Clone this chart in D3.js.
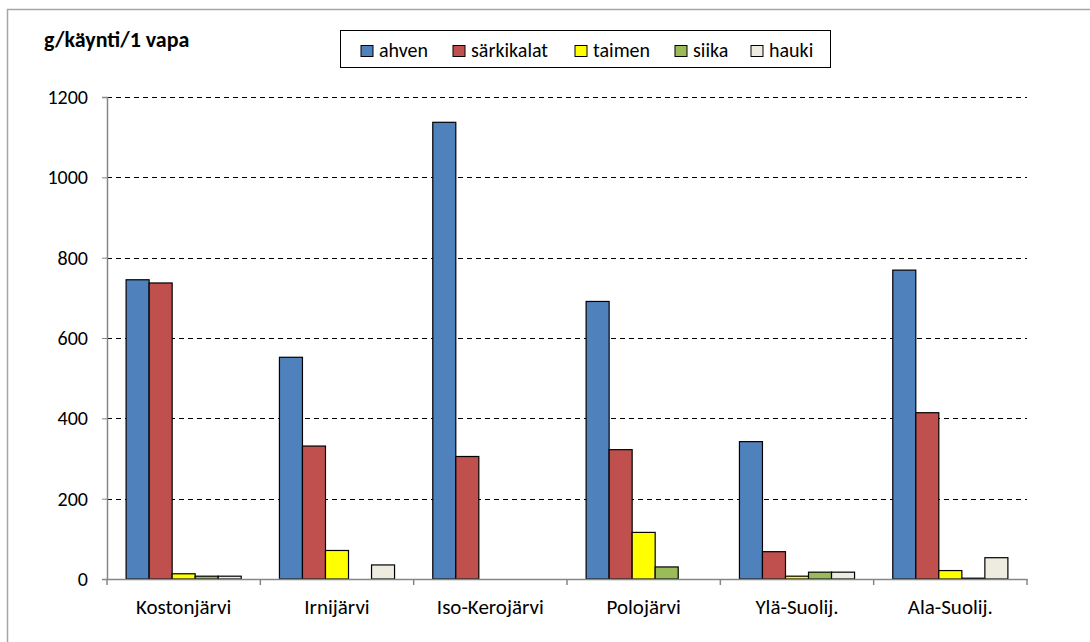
<!DOCTYPE html>
<meta charset="utf-8">
<html>
<head>
<title>g/käynti/1 vapa</title>
<script src="https://d3js.org/d3.v7.min.js"></script>
<style>
  body { margin: 0; background: #fff; }
  svg text { font-family: Carlito, "Open Sans", sans-serif; fill: #000; }
  .axis path, .axis line { stroke: #868686; }
</style>
</head>
<body>
<script>
// data
var lakes = ["Kostonjärvi", "Irnijärvi", "Iso-Kerojärvi", "Polojärvi", "Ylä-Suolij.", "Ala-Suolij."];
var species = ["ahven", "särkikalat", "taimen", "siika", "hauki"];
var ahven      = [745, 552, 1137, 691, 342, 769];
var sarkikalat = [737, 331, 305, 322, 68, 414];
var taimen     = [13, 71, 0, 116, 7, 21];
var siika      = [7, 0, 0, 30, 17, 2];
var hauki      = [7, 35, 0, 0, 17, 53];
var yTicks = [0, 200, 400, 600, 800, 1000, 1200];
var colors = ["#4F81BD", "#C0504D", "#FFFF00", "#9BBB59", "#EEECE1"];

var series = [ahven, sarkikalat, taimen, siika, hauki];

var W = 1090, H = 642;
var margin = {top: 97, left: 107, right: 63, bottom: 60};
var width = W - margin.left - margin.right,
    height = H - margin.top - margin.bottom - 3;

var svg = d3.select("body").append("svg")
    .attr("width", W).attr("height", H);

// outer chart border
svg.append("rect")
    .attr("x", 7.5).attr("y", 9.5)
    .attr("width", W).attr("height", H)
    .attr("fill", "none").attr("stroke", "#a6a6a6").attr("stroke-width", 1.5);

var g = svg.append("g").attr("transform", "translate(" + margin.left + "," + margin.top + ")");

var x0 = d3.scaleBand().domain(lakes).range([0, width]).paddingInner(0).paddingOuter(0);
var x1 = d3.scaleBand().domain(species).range([0, x0.bandwidth()]).paddingInner(0).paddingOuter(0.83);
var y = d3.scaleLinear().domain([0, 1200]).range([height, 0]);

// gridlines
g.selectAll(".grid").data(yTicks.filter(function(d) { return d > 0; }))
  .enter().append("line")
    .attr("x1", 0).attr("x2", width)
    .attr("y1", function(d) { return Math.round(y(d)) + 0.5; })
    .attr("y2", function(d) { return Math.round(y(d)) + 0.5; })
    .attr("stroke", "#000").attr("stroke-dasharray", "5,4");

// bars
var groups = g.selectAll(".lake").data(lakes).enter().append("g")
    .attr("transform", function(d) { return "translate(" + x0(d) + ",0)"; });

groups.selectAll("rect")
  .data(function(d, i) { return species.map(function(s, j) { return {s: s, v: series[j][i], c: colors[j]}; }); })
  .enter().append("rect")
    .filter(function(d) { return d.v > 0; })
    .attr("x", function(d) { return x1(d.s); })
    .attr("width", x1.bandwidth())
    .attr("y", function(d) { return y(d.v); })
    .attr("height", function(d) { return height - y(d.v); })
    .attr("fill", function(d) { return d.c; })
    .attr("stroke", "#000").attr("stroke-width", 1.2);

// y axis
var yAxis = g.append("g").attr("class", "axis")
    .call(d3.axisLeft(y).tickValues(yTicks).tickFormat(d3.format("d")).tickSize(5).tickPadding(14));
yAxis.selectAll("text").style("font-size", "20px");
yAxis.select(".domain").attr("stroke-width", 1.5);

// x axis
var xAxis = g.append("g").attr("class", "axis")
    .attr("transform", "translate(0," + height + ")")
    .call(d3.axisBottom(x0).tickSize(0).tickPadding(20));
xAxis.selectAll("text").style("font-size", "21px");
xAxis.select(".domain").attr("stroke-width", 1.5);
xAxis.selectAll(".sep").data(lakes.concat(["end"])).enter().append("line")
    .attr("x1", function(d, i) { return i * x0.bandwidth(); })
    .attr("x2", function(d, i) { return i * x0.bandwidth(); })
    .attr("y1", 0).attr("y2", 6)
    .attr("stroke", "#868686").attr("stroke-width", 1.5);

// title
svg.append("text")
    .attr("x", 44).attr("y", 47)
    .style("font-size", "22px").style("font-weight", "bold")
    .text("g/käynti/1 vapa");

// legend
var legend = svg.append("g");
legend.append("rect")
    .attr("x", 340.5).attr("y", 30.5).attr("width", 490).attr("height", 37)
    .attr("fill", "#fff").attr("stroke", "#000");
var legX = [361, 453, 575, 675, 751];
var items = legend.selectAll(".item").data(species).enter().append("g")
    .attr("transform", function(d, i) { return "translate(" + legX[i] + ",45.5)"; });
items.append("rect")
    .attr("width", 12).attr("height", 11)
    .attr("fill", function(d, i) { return colors[i]; })
    .attr("stroke", "#000");
items.append("text")
    .attr("x", 18).attr("y", 11)
    .style("font-size", "20px")
    .text(function(d) { return d; });
</script>
</body>
</html>
